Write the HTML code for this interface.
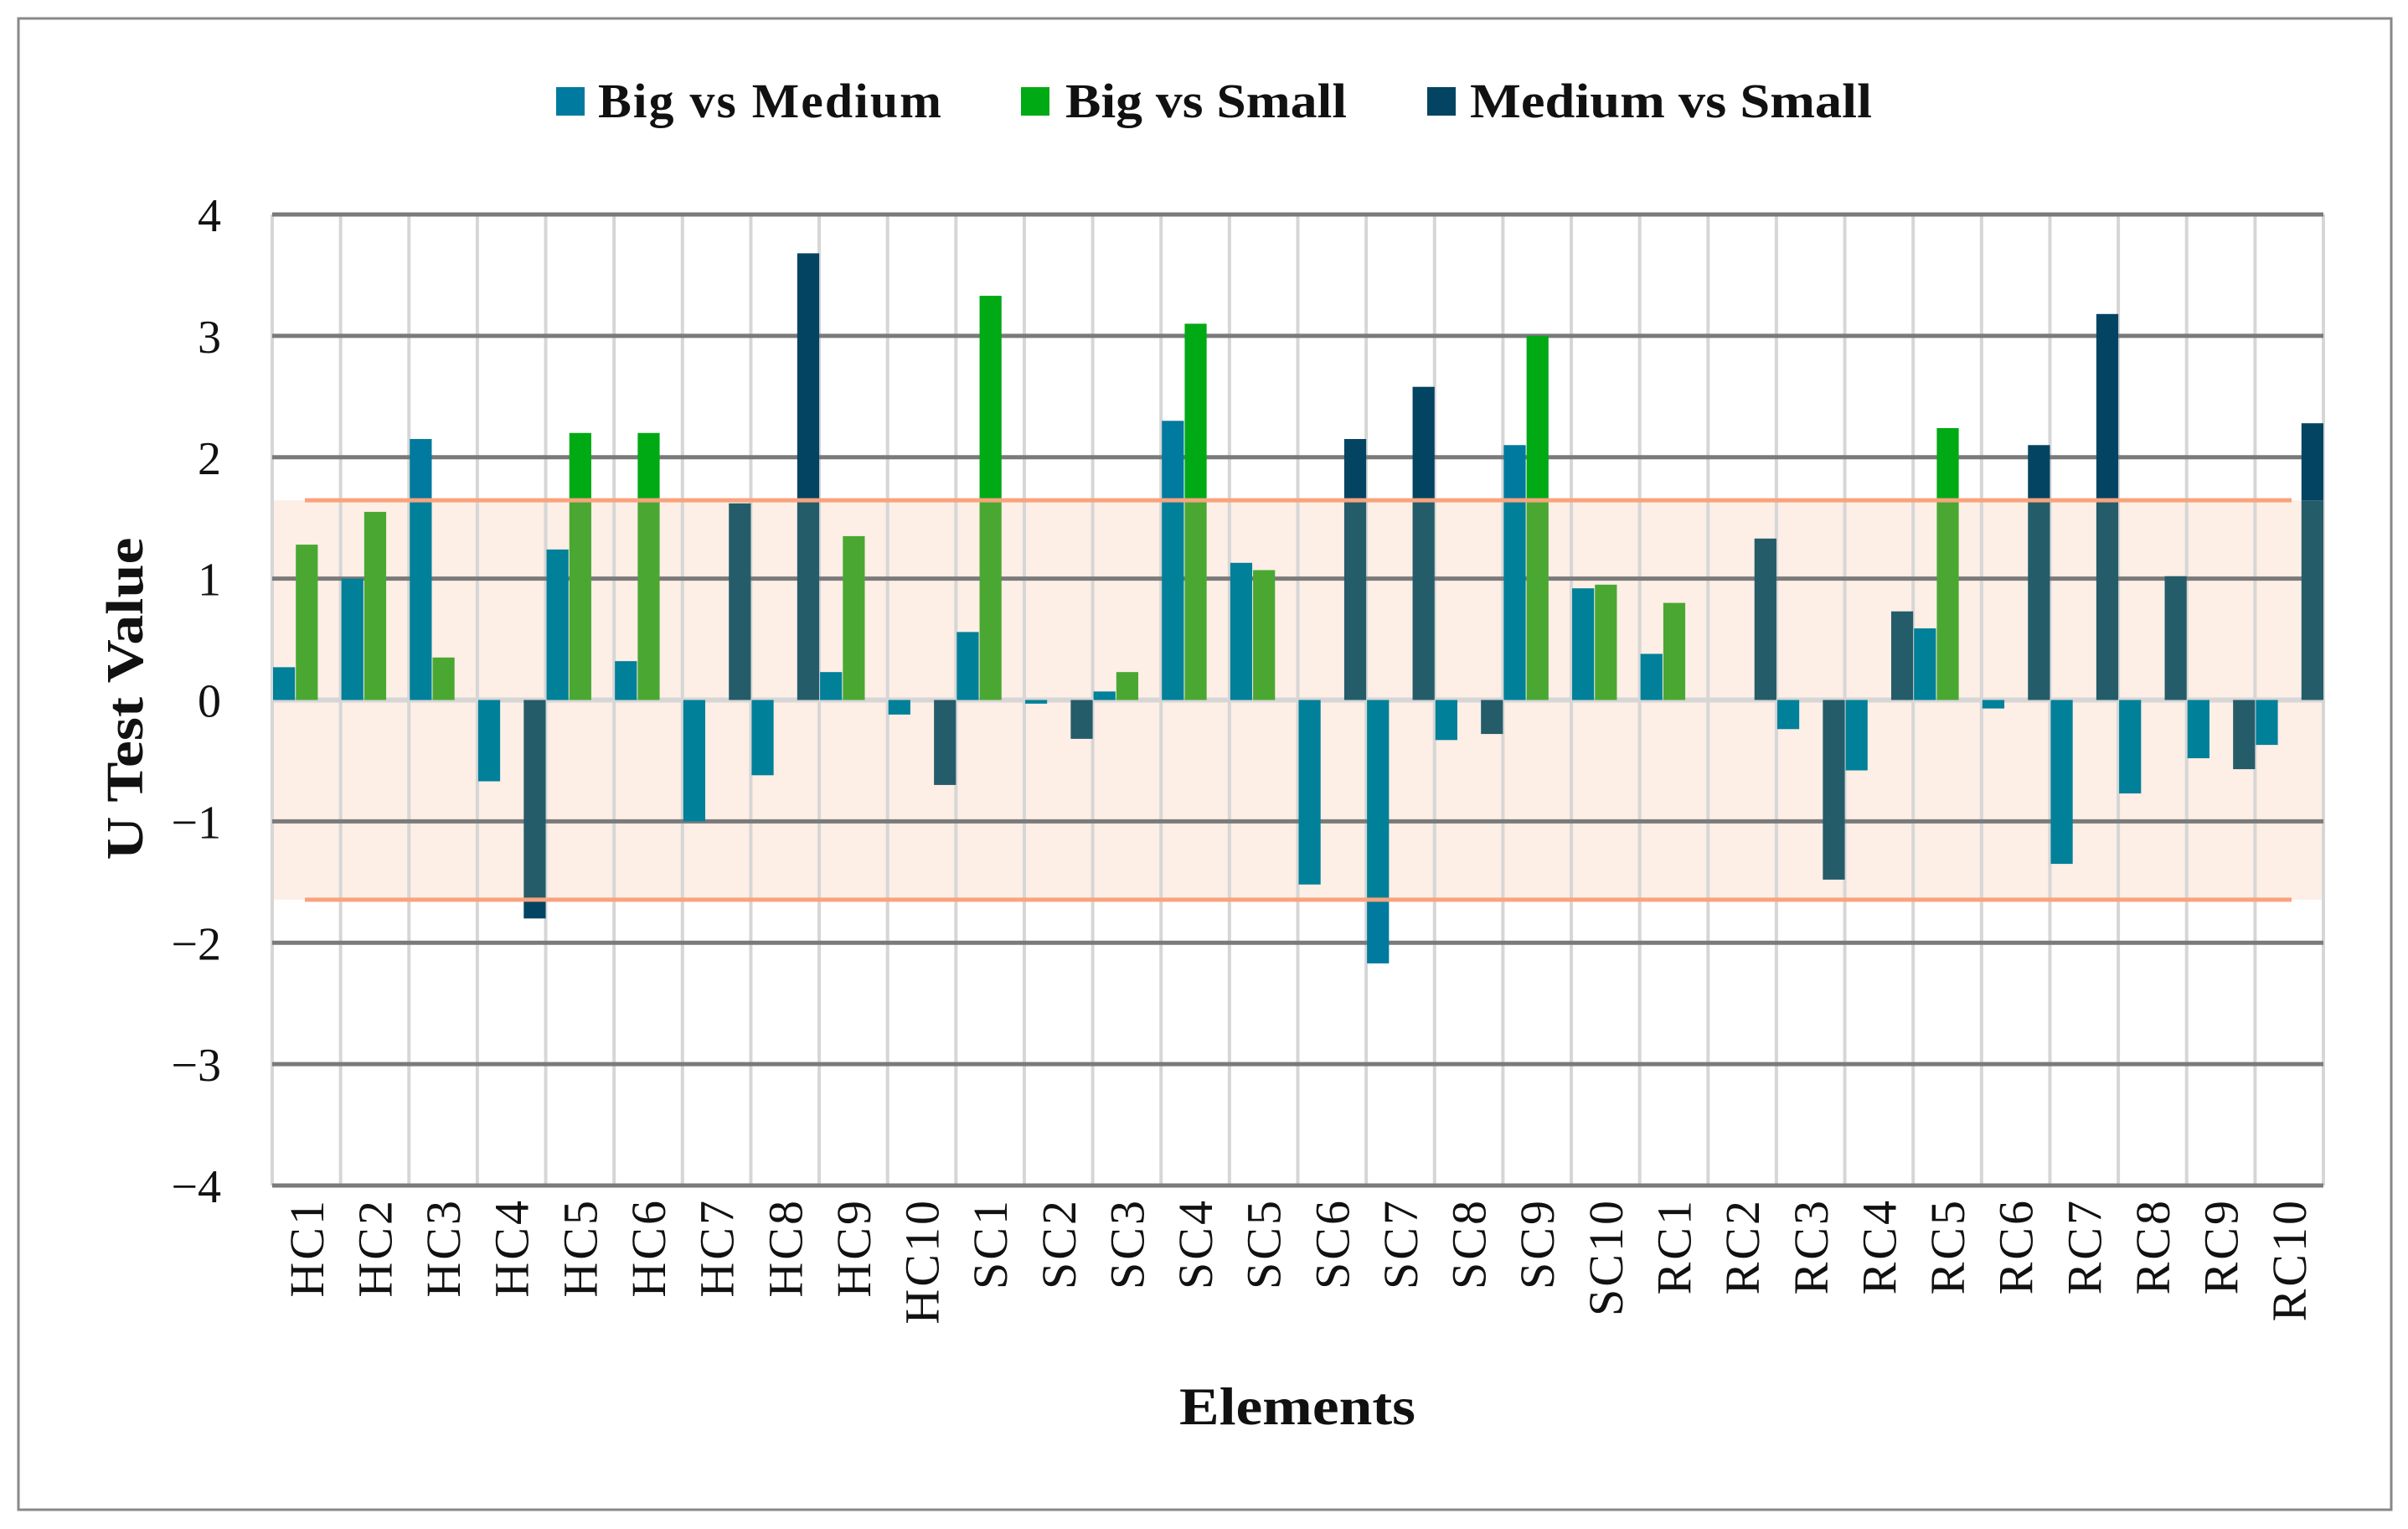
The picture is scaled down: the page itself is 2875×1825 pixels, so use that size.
<!DOCTYPE html>
<html><head><meta charset="utf-8">
<style>
html,body{margin:0;padding:0;background:#fff;}
svg{display:block;}
text{font-family:"Liberation Serif",serif;fill:#111;}
</style></head>
<body>
<svg id="chart" width="2875" height="1825" viewBox="0 0 2875 1825">
<rect x="22" y="22" width="2833" height="1780" fill="#fff" stroke="#888" stroke-width="3"/>
<g id="legend">
<g><rect x="664" y="104" width="34" height="34" fill="#007a9e"/><text x="714" y="140" font-size="58" font-weight="bold" letter-spacing="2" textLength="412" lengthAdjust="spacingAndGlyphs">Big vs Medium</text></g>
<g><rect x="1219" y="104" width="34" height="34" fill="#00aa14"/><text x="1272" y="140" font-size="58" font-weight="bold" textLength="336" lengthAdjust="spacingAndGlyphs">Big vs Small</text></g>
<g><rect x="1704" y="104" width="34" height="34" fill="#024462"/><text x="1755" y="140" font-size="58" font-weight="bold" textLength="480" lengthAdjust="spacingAndGlyphs">Medium vs Small</text></g>
</g>
<text x="0" y="0" transform="translate(170,834) rotate(-90)" text-anchor="middle" font-size="62" font-weight="bold" textLength="385" lengthAdjust="spacingAndGlyphs">U Test Value</text>
<text x="1549" y="1700" text-anchor="middle" font-size="64" font-weight="bold" textLength="282" lengthAdjust="spacingAndGlyphs">Elements</text>
<g id="plot"></g>
</svg>
<script>
const categories = ["HC1","HC2","HC3","HC4","HC5","HC6","HC7","HC8","HC9","HC10","SC1","SC2","SC3","SC4","SC5","SC6","SC7","SC8","SC9","SC10","RC1","RC2","RC3","RC4","RC5","RC6","RC7","RC8","RC9","RC10"];
const bigVsMedium = [0.27,1.0,2.15,-0.67,1.24,0.32,-1.0,-0.62,0.23,-0.12,0.56,-0.03,0.07,2.3,1.13,-1.52,-2.17,-0.33,2.1,0.92,0.38,null,-0.24,-0.58,0.59,-0.07,-1.35,-0.77,-0.48,-0.37];
const bigVsSmall = [1.28,1.55,0.35,null,2.2,2.2,null,null,1.35,null,3.33,null,0.23,3.1,1.07,null,null,null,3.0,0.95,0.8,null,null,null,2.24,null,null,null,null,null];
const mediumVsSmall = [null,null,null,-1.8,null,null,1.62,3.68,null,-0.7,null,-0.32,null,null,null,2.15,2.58,-0.28,null,null,null,1.33,-1.48,0.73,null,2.1,3.18,1.02,-0.57,2.28];
const yTicks = [4,3,2,1,0,-1,-2,-3,-4];
const criticalValue = 1.645;

const NS="http://www.w3.org/2000/svg";
const plot=document.getElementById('plot');
const X0=325, X1=2774, Y4=256, Y_4=1415;
const cw=(X1-X0)/categories.length;
function yS(v){return Y4+(4-v)*(Y_4-Y4)/8;}
function xS(i){return X0+i*cw;}
function mk(tag,attrs,parent){const e=document.createElementNS(NS,tag);for(const k in attrs)e.setAttribute(k,attrs[k]);(parent||plot).appendChild(e);return e;}

let band=mk('rect',{x:X0,y:yS(criticalValue),width:X1-X0,height:yS(-criticalValue)-yS(criticalValue),fill:'#fdeee6'});


for(let i=0;i<=categories.length;i++){
  let l=mk('line',{x1:xS(i),x2:xS(i),y1:Y4,y2:Y_4,stroke:'#d6d6d6','stroke-width':4});
  
  
}
yTicks.forEach(t=>{
  let l=mk('line',{x1:X0,x2:X1,y1:yS(t),y2:yS(t),stroke:t===0?'#d6d6d6':'#7a7a7a','stroke-width':t===0?6:5});
  
  
  let tx=mk('text',{x:264,y:yS(t)+20,'text-anchor':'end','font-size':56});
  tx.textContent=(t<0?'\u2212'+(-t):String(t));
  
  
});
const series=[[bigVsMedium,'#007a9e','#008099','big-vs-medium'],[bigVsSmall,'#00aa14','#4aa832','big-vs-small'],[mediumVsSmall,'#024462','#245c6a','medium-vs-small']];
const bw=cw/3;
series.forEach((s,si)=>{
  s[0].forEach((v,i)=>{
    if(v===null) return;
    const x=xS(i)+si*bw+1, w=bw-1;
    const y0=yS(0), yv=yS(v);
    const g=mk('g',{});
    
    
    const top=Math.min(y0,yv), bot=Math.max(y0,yv);
    const bt=yS(criticalValue), bb=yS(-criticalValue);
    if(top<bt) mk('rect',{x:x,y:top,width:w,height:Math.min(bot,bt)-top,fill:s[1]},g);
    if(bot>bb) mk('rect',{x:x,y:Math.max(top,bb),width:w,height:bot-Math.max(top,bb),fill:s[1]},g);
    const it=Math.max(top,bt), ib=Math.min(bot,bb);
    if(ib>it) mk('rect',{x:x,y:it,width:w,height:ib-it,fill:s[2]},g);
  });
});
[criticalValue,-criticalValue].forEach(c=>{
  let l=mk('line',{x1:364,x2:2736,y1:yS(c),y2:yS(c),stroke:'#f9a37d','stroke-width':5});
  
  
});
categories.forEach((c,i)=>{
  const cx=xS(i)+cw/2+20;
  let t=mk('text',{x:0,y:0,transform:`translate(${cx},1430) rotate(-90)`,'text-anchor':'end','font-size':58,'letter-spacing':3});
  t.textContent=c;
  
  
});
</script>
</body></html>
